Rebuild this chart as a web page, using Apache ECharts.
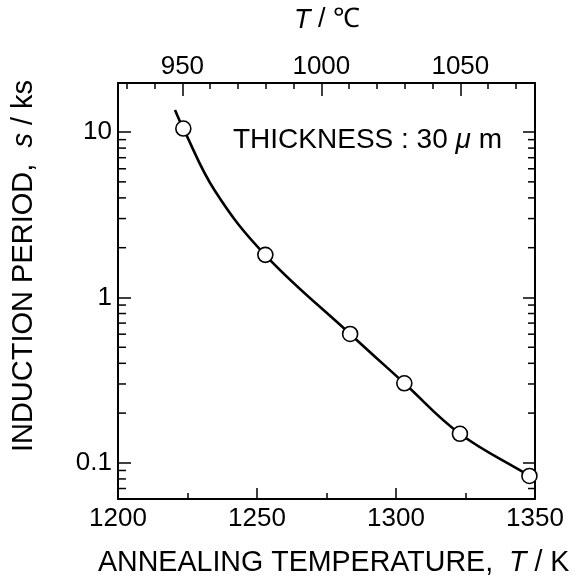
<!DOCTYPE html>
<html>
<head>
<meta charset="utf-8">
<script src="https://cdn.jsdelivr.net/npm/echarts@6/dist/echarts.min.js"></script>
<style>html,body{margin:0;padding:0;background:#fff;}#c{width:578px;height:583px;}</style>
</head>
<body>
<div id="c"></div>
<script>
// ---- data ----
const tempK = [1223.5, 1253, 1283.5, 1303, 1323, 1348];
const periodKs = [10.5, 1.81, 0.602, 0.303, 0.150, 0.0834];
const curveK = [1220.5, 1223.5, 1234.9, 1252.9, 1283.5, 1303, 1323, 1348, 1350];
const curveKs = [13.6, 10.5, 4.40, 1.81, 0.602, 0.303, 0.150, 0.0834, 0.0784];
const xTicksK = [1200, 1250, 1300, 1350];
const topTicksC = [950, 1000, 1050];
const topMinorC = [930, 940, 960, 970, 980, 990, 1010, 1020, 1030, 1040, 1060, 1070];
const yTicks = [0.1, 1, 10];
const yMinor = [0.07, 0.08, 0.09, 0.2, 0.3, 0.4, 0.5, 0.6, 0.7, 0.8, 0.9, 2, 3, 4, 5, 6, 7, 8, 9];
const xMin = 1200, xMax = 1350, yMin = 0.0605, yMax = 19.8;
const K0 = 273.15;

const FONT = '"Liberation Sans", Arial, Helvetica, sans-serif';
const chart = echarts.init(document.getElementById('c'));
const lineStyle = {color: '#000', width: 2};
const tickStyle = {color: '#000', width: 1.5};

chart.setOption({
  animation: false,
  backgroundColor: '#fff',
  grid: {left: 118, right: 43, top: 83, bottom: 84, containLabel: false},
  xAxis: [
    {type: 'value', position: 'bottom', min: xMin, max: xMax, interval: 50,
     axisLine: {lineStyle: lineStyle},
     axisTick: {inside: true, length: 11, lineStyle: tickStyle},
     minorTick: {show: true, splitNumber: 2, length: 6, lineStyle: tickStyle},
     splitLine: {show: false},
     axisLabel: {color: '#000', fontSize: 26, fontFamily: FONT, margin: 7,
       customValues: xTicksK, formatter: v => String(v)}},
    {type: 'value', position: 'top', min: xMin - K0, max: xMax - K0,
     axisLine: {lineStyle: lineStyle},
     axisTick: {inside: true, length: 13, customValues: topTicksC, lineStyle: tickStyle},
     splitLine: {show: false},
     axisLabel: {color: '#000', fontSize: 26, fontFamily: FONT, margin: 3, customValues: topTicksC,
       formatter: v => String(v)}},
    {type: 'value', position: 'top', min: xMin - K0, max: xMax - K0,
     axisLine: {show: false},
     axisTick: {inside: true, length: 6, customValues: topMinorC, lineStyle: tickStyle},
     splitLine: {show: false},
     axisLabel: {show: false}}
  ],
  yAxis: [
    {type: 'log', position: 'left', min: yMin, max: yMax,
     axisLine: {lineStyle: lineStyle},
     axisTick: {inside: true, length: 13, customValues: yTicks, lineStyle: tickStyle},
     splitLine: {show: false},
     axisLabel: {color: '#000', fontSize: 26, fontFamily: FONT, margin: 6, customValues: yTicks,
       formatter: v => String(v)}},
    {type: 'log', position: 'right', min: yMin, max: yMax,
     axisLine: {lineStyle: lineStyle},
     axisTick: {inside: true, length: 12, customValues: yTicks, lineStyle: tickStyle},
     splitLine: {show: false},
     axisLabel: {show: false}}
  ],
  series: [
    {type: 'custom', xAxisIndex: 0, yAxisIndex: 0, silent: true, clip: false, z: 5,
     data: yMinor.map(v => [xMin, v]),
     renderItem: function (params, api) {
       const v = api.value(1);
       const pL = api.coord([xMin, v]);
       const pR = api.coord([xMax, v]);
       const st = {stroke: '#000', lineWidth: 1.5};
       return {type: 'group', children: [
         {type: 'line', shape: {x1: pL[0], y1: pL[1], x2: pL[0] + 8, y2: pL[1]}, style: st},
         {type: 'line', shape: {x1: pR[0], y1: pR[1], x2: pR[0] - 7, y2: pR[1]}, style: st}
       ]};
     }},
    {type: 'line', xAxisIndex: 0, yAxisIndex: 0, smooth: 0.4, showSymbol: false, z: 3,
     lineStyle: {color: '#000', width: 2.6},
     data: curveK.map((x, i) => [x, curveKs[i]])},
    {type: 'scatter', xAxisIndex: 0, yAxisIndex: 0, symbol: 'circle', symbolSize: 15, z: 6,
     itemStyle: {color: '#fff', borderColor: '#000', borderWidth: 1.6, opacity: 1},
     data: tempK.map((x, i) => [x, periodKs[i]])}
  ],
  graphic: [
    {type: 'text', x: 327, y: 20, z: 10,
     style: {text: '{i|T} / ℃', align: 'center', verticalAlign: 'middle', fill: '#000', font: '27px ' + FONT,
       rich: {i: {fontStyle: 'italic', fontSize: 27, fontFamily: FONT}}}},
    {type: 'text', x: 98, y: 563, z: 10,
     style: {text: 'ANNEALING TEMPERATURE,  {i|T} / K', align: 'left', verticalAlign: 'middle', fill: '#000', font: '28.6px ' + FONT,
       rich: {i: {fontStyle: 'italic', fontSize: 28.6, fontFamily: FONT}}}},
    {type: 'text', x: 24, y: 266, rotation: Math.PI / 2, z: 10,
     style: {text: 'INDUCTION PERIOD,  {i|s} / ks', align: 'center', verticalAlign: 'middle', fill: '#000', font: '29px ' + FONT,
       rich: {i: {fontStyle: 'italic', fontSize: 29, fontFamily: FONT}}}},
    {type: 'text', x: 233, y: 140, z: 10,
     style: {text: 'THICKNESS : 30 {i|μ} m', align: 'left', verticalAlign: 'middle', fill: '#000', font: '28px ' + FONT,
       rich: {i: {fontStyle: 'italic', fontSize: 28, fontFamily: FONT}}}}
  ]
});
</script>
</body>
</html>
